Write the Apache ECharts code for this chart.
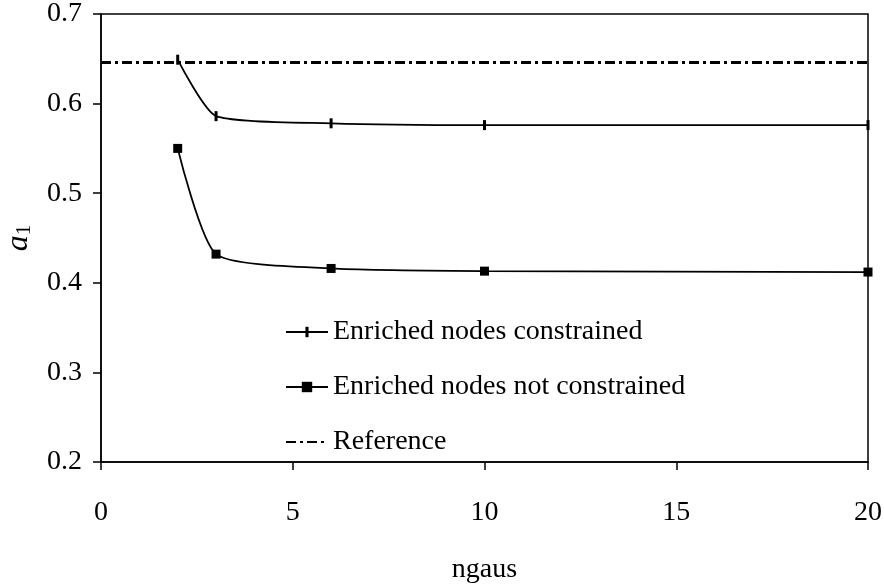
<!DOCTYPE html>
<html>
<head>
<meta charset="utf-8">
<script src="https://cdn.jsdelivr.net/npm/echarts@6/dist/echarts.min.js"></script>
<style>
  html, body { margin: 0; padding: 0; background: #fff; }
  #chart { width: 884px; height: 585px; }
</style>
</head>
<body>
<div id="chart"></div>
<script>
// values
const ngaus = [2, 3, 6, 10, 20]
const constrained = [0.649, 0.586, 0.578, 0.576, 0.576]
const notConstrained = [0.550, 0.432, 0.416, 0.413, 0.412]
const referenceValue = 0.646
const referenceX = [0, 20]
const xTicks = [0, 5, 10, 15, 20]
const yTicks = [0.2, 0.3, 0.4, 0.5, 0.6, 0.7]
const seriesNames = ['Enriched nodes constrained', 'Enriched nodes not constrained', 'Reference']

const font = 'Liberation Serif, Times New Roman, serif'
// thin vertical bar centred in a square box, so it stays thin in the legend too
const tickBar = 'path://M-3.5,0M6.5,10M0,0h3v10h-3z'

const chart = echarts.init(document.getElementById('chart'))

const pair = (xs, ys) => xs.map((x, i) => [x, ys[i]])

const option = {
  animation: false,
  grid: {
    left: 101,
    right: 16,
    top: 14,
    bottom: 123,
    outerBoundsMode: 'none',
    containLabel: false,
    show: true,
    borderColor: '#000',
    borderWidth: 1.5,
  },
  legend: {
    orient: 'vertical',
    left: 280,
    top: 313,
    itemGap: 27,
    itemWidth: 42,
    itemHeight: 13,
    textStyle: { fontFamily: font, fontSize: 28, lineHeight: 28, color: '#000' },
    data: seriesNames,
  },
  xAxis: {
    type: 'value',
    min: xTicks[0],
    max: xTicks[xTicks.length - 1],
    interval: 5,
    name: 'ngaus',
    nameLocation: 'middle',
    nameGap: 94,
    nameTextStyle: { fontFamily: font, fontSize: 28, color: '#000' },
    axisLine: { lineStyle: { color: '#000', width: 1.5 } },
    axisTick: { show: true, length: 8, lineStyle: { color: '#000', width: 1.5 } },
    axisLabel: { fontFamily: font, fontSize: 28, color: '#000', margin: 37 },
    splitLine: { show: false },
  },
  yAxis: {
    type: 'value',
    min: yTicks[0],
    max: yTicks[yTicks.length - 1],
    interval: 0.1,
    name: '{i|a}{s|1}',
    nameLocation: 'middle',
    nameRotate: 90,
    nameGap: 66,
    nameTextStyle: {
      rich: {
        i: { fontFamily: font, fontSize: 32, fontStyle: 'italic', color: '#000' },
        s: { fontFamily: font, fontSize: 21, color: '#000', verticalAlign: 'bottom', padding: [10, 0, 0, 0] },
      },
    },
    axisLine: { lineStyle: { color: '#000', width: 1.5 } },
    axisTick: { show: true, length: 8, lineStyle: { color: '#000', width: 1.5 } },
    axisLabel: {
      fontFamily: font, fontSize: 28, color: '#000', margin: 19,
      formatter: (v) => v.toFixed(1),
    },
    splitLine: { show: false },
  },
  series: [
    {
      name: seriesNames[0],
      type: 'line',
      data: pair(ngaus, constrained),
      smooth: 0.2,
      symbol: tickBar,
      symbolSize: 10,
      symbolKeepAspect: true,
      itemStyle: { color: '#000' },
      lineStyle: { color: '#000', width: 1.8 },
    },
    {
      name: seriesNames[1],
      type: 'line',
      data: pair(ngaus, notConstrained),
      smooth: 0.2,
      symbol: 'rect',
      symbolSize: 9,
      itemStyle: { color: '#000' },
      lineStyle: { color: '#000', width: 1.8 },
    },
    {
      name: seriesNames[2],
      type: 'line',
      data: referenceX.map((x) => [x, referenceValue]),
      showSymbol: false,
      symbol: 'rect',
      itemStyle: { color: 'rgba(0,0,0,0)' },
      lineStyle: { color: '#000', width: 3, type: [10, 4, 3, 4] },
    },
  ],
}

chart.setOption(option)
</script>
</body>
</html>
